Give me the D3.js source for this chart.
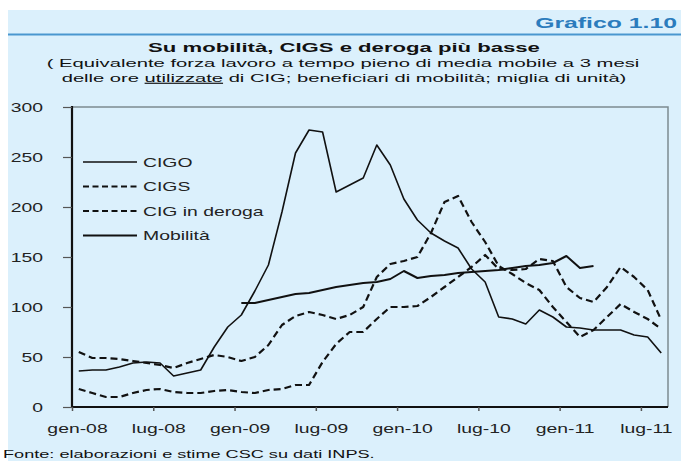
<!DOCTYPE html>
<html>
<head>
<meta charset="utf-8">
<script src="https://cdn.jsdelivr.net/npm/d3@7"></script>
<style>
  body { margin: 0; background: #fff; }
  svg { display: block; font-family: "Liberation Sans", Arial, sans-serif; }
</style>
</head>
<body>
<svg id="chart" width="681" height="461"></svg>
<script>
// Data (monthly, gen-08 .. ago-11)
const months = d3.range(44).map((i) => i);
const tickMonths = [0, 6, 12, 18, 24, 30, 36, 42];
const tickLabels = ["gen-08", "lug-08", "gen-09", "lug-09", "gen-10", "lug-10", "gen-11", "lug-11"];
const yTicks = [0, 50, 100, 150, 200, 250, 300];

const cigo = [36, 37, 37, 40, 44, 45, 44, 31, 34, 37, 60, 80, 92, 116, 142, 195,
  254, 277, 275, 215, 222, 229, 262, 242, 208, 187, 174, 166, 159, 138, 125, 90,
  88, 83, 97, 90, 80, 79, 77, 77, 77, 72, 70, 54];
const cigs = [55, 49, 49, 48, 46, 44, 42, 39, 44, 48, 52, 50, 46, 50, 62, 82,
  91, 95, 92, 88, 92, 100, 130, 143, 146, 150, 174, 205, 211, 185, 165, 141,
  133, 124, 117, 100, 85, 70, 77, 90, 103, 95, 88, 78];
const deroga = [18, 14, 10, 10, 14, 17, 18, 15, 14, 14, 16, 17, 15, 14, 17, 18,
  22, 22, 45, 63, 75, 75, 88, 100, 100, 101, 110, 120, 130, 140, 152, 138,
  137, 138, 148, 146, 120, 109, 105, 120, 140, 130, 117, 87];
const mobilita = [null, null, null, null, null, null, null, null, null, null, null, null,
  104, 104, 107, 110, 113, 114, 117, 120, 122, 124, 125, 128, 136, 129, 131, 132,
  134, 135, 136, 137, 139, 141, 142, 144, 151, 139, 141, null, null, null, null, null];

const seriesNames = ["CIGO", "CIGS", "CIG in deroga", "Mobilità"];
const seriesValues = [cigo, cigs, deroga, mobilita];
const seriesDash = [null, "7,4", "7,4", null];
const seriesWidth = [1.6, 2.2, 2.2, 2];

const svg = d3.select("#chart");

// text that is stretched sideways to a given width (the source image is wide)
function wideText(parent, x, y, anchor, size, width, weight, fill) {
  const t = parent.append("text")
    .attr("text-anchor", anchor)
    .attr("font-size", size)
    .attr("font-weight", weight || "normal")
    .attr("fill", fill || "#111");
  return {
    t,
    fit() {
      const w = t.node().getComputedTextLength();
      t.attr("transform", `translate(${x},${y}) scale(${width / w},1)`);
      return t;
    },
  };
}

// Panel background
svg.append("rect").attr("x", 8).attr("y", 10).attr("width", 673).attr("height", 451).attr("fill", "#dbf0fc");
svg.append("line").attr("x1", 8).attr("x2", 681).attr("y1", 34.5).attr("y2", 34.5)
  .attr("stroke", "#4a97cf").attr("stroke-width", 2);

const head = wideText(svg, 677, 28, "end", 14.5, 142, "bold", "#2b7cbd");
head.t.text("Grafico 1.10");
head.fit();

// Titles
const t1 = wideText(svg, 344, 52, "middle", 12, 392, "bold");
t1.t.text("Su mobilità, CIGS e deroga più basse");
t1.fit();
const t2 = wideText(svg, 343, 67, "middle", 11.5, 593);
t2.t.text("( Equivalente forza lavoro a tempo pieno di media mobile a  3 mesi");
t2.fit();
const t3 = wideText(svg, 344, 82, "middle", 11.5, 565);
t3.t.append("tspan").text("delle ore ");
t3.t.append("tspan").attr("text-decoration", "underline").text("utilizzate");
t3.t.append("tspan").text(" di CIG; beneficiari di mobilità; miglia di unità)");
t3.fit();

// Scales
const plotL = 72, plotR = 668, plotT = 107, plotB = 407;
const x = d3.scaleBand().domain(months).range([plotL, plotR]).padding(0);
const xTick = d3.scaleLinear().domain([0, 44]).range([plotL, plotR]);
const y = d3.scaleLinear().domain([0, 300]).range([plotB, plotT]);

// Frame (top/right)
svg.append("path")
  .attr("d", `M${plotL},${plotT}H${plotR}V${plotB}`)
  .attr("fill", "none").attr("stroke", "#7d8a90").attr("stroke-width", 1.5);

// Axes
const sx = 1.55;
const yAxis = svg.append("g").attr("transform", `translate(${plotL},0)`)
  .call(d3.axisLeft(y).tickValues(yTicks).tickSize(9));
const xAxis = svg.append("g").attr("transform", `translate(0,${plotB})`)
  .call(d3.axisBottom(xTick).tickValues(tickMonths).tickFormat((d, i) => tickLabels[i])
    .tickSize(4).tickPadding(13));
[yAxis, xAxis].forEach((g) => {
  g.select(".domain").attr("stroke", "#111").attr("stroke-width", 2.2);
  g.selectAll(".tick line").attr("stroke", "#555").attr("stroke-width", 1.2);
  g.selectAll("text").attr("font-size", 12.5).attr("fill", "#222")
    .attr("font-family", "Liberation Sans, Arial, sans-serif")
    .attr("transform", `scale(${sx},1)`);
});
yAxis.selectAll(".tick text").attr("x", -29 / sx);
xAxis.selectAll(".tick text").attr("x", 5 / sx);
yAxis.select(".domain").attr("d", `M0,${plotB}V${plotT - 1}`);
xAxis.select(".domain").attr("d", `M${plotL},0H${plotR}`);
xAxis.selectAll(".tick line").attr("stroke-width", 1.5);

// Lines
const line = d3.line()
  .defined((d) => d != null)
  .x((d, i) => x(i) + x.bandwidth() / 2)
  .y((d) => y(d));

seriesValues.forEach((vals, k) => {
  svg.append("path")
    .datum(vals)
    .attr("fill", "none")
    .attr("stroke", "#111")
    .attr("stroke-width", seriesWidth[k])
    .attr("stroke-linejoin", "round")
    .attr("stroke-dasharray", seriesDash[k])
    .attr("d", line);
});

// Legend
const legend = svg.append("g");
seriesNames.forEach((name, k) => {
  const ly = 162 + k * 24.5;
  legend.append("line").attr("x1", 83).attr("x2", 137).attr("y1", ly).attr("y2", ly)
    .attr("stroke", "#111").attr("stroke-width", seriesWidth[k])
    .attr("stroke-dasharray", seriesDash[k] ? "6,3.5" : null);
  legend.append("text")
    .attr("transform", `translate(143,${ly + 4.5}) scale(${sx},1)`)
    .attr("font-size", 12.5).attr("fill", "#222").text(name);
});

// Source
const src = wideText(svg, 3, 458, "start", 11, 372);
src.t.text("Fonte: elaborazioni e stime CSC su dati INPS.");
src.fit();
</script>
</body>
</html>
